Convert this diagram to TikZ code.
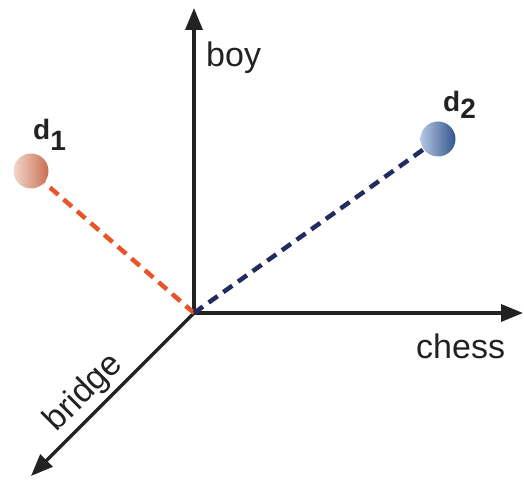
\documentclass[tikz,border=0pt]{standalone}
\usepackage{fontspec}
\setmainfont{Liberation Sans}
\usepackage{xcolor}
\definecolor{cAxis}{HTML}{222222}
\definecolor{cOne}{HTML}{E8552B}
\definecolor{cTwo}{HTML}{232C5E}
\definecolor{cOneLight}{HTML}{F2D6CB}
\definecolor{cOneDark}{HTML}{C76F52}
\definecolor{cTwoLight}{HTML}{B4C6E4}
\definecolor{cTwoDark}{HTML}{34558C}
\usetikzlibrary{positioning,arrows.meta}
\tikzset{
  axis-arrow/.style={-{Triangle[length=22pt,width=17pt]},line width=3.4pt,draw=cAxis},
  axis-label/.style={font=\fontsize{34}{36}\selectfont,text=cAxis,inner sep=0pt},
  doc-label/.style={font=\fontsize{28}{30}\selectfont\bfseries,text=cAxis,inner sep=0pt},
  doc-ball/.style={circle,minimum size=35pt,inner sep=0pt},
  link-one/.style={line width=4.5pt,draw=cOne,dash pattern=on 11pt off 7pt},
  link-two/.style={line width=4.5pt,draw=cTwo,dash pattern=on 11pt off 7pt},
}
\begin{document}
\begin{tikzpicture}[x=1pt,y=1pt]
  \useasboundingbox (0,0) rectangle (524,479);
  % axes
  \coordinate (o) at (194,166);
  \coordinate (boy-tip) at (194,471);
  \coordinate (chess-tip) at (523,166);
  \coordinate (bridge-tip) at (31,3);
  \draw[axis-arrow] (o) -- (boy-tip);
  \draw[axis-arrow] (o) -- (chess-tip);
  \draw[axis-arrow] (o) -- (bridge-tip);
  \node[axis-label,anchor=base west] (boy) at (206,412) {boy};
  \node[axis-label,anchor=base west] (chess) at (416,121) {chess};
  \node[axis-label,rotate=45] (bridge) at (84,86) {bridge};
  % documents
  \node[doc-ball] (d1) at (31,308) {};
  \node[doc-ball] (d2) at (438,340) {};
  \draw[link-one] (o) -- (d1);
  \draw[link-two] (o) -- (d2);
  \node[doc-ball,left color=cOneLight,right color=cOneDark] at (d1) {};
  \node[doc-ball,left color=cTwoLight,right color=cTwoDark] at (d2) {};
  \node[doc-label,anchor=base west] (d1-label) at (33,339)
    {d\raisebox{-0.36em}{1}};
  \node[doc-label,anchor=base west] (d2-label) at (443,367)
    {d\raisebox{-0.25em}{2}};
\end{tikzpicture}
\end{document}
